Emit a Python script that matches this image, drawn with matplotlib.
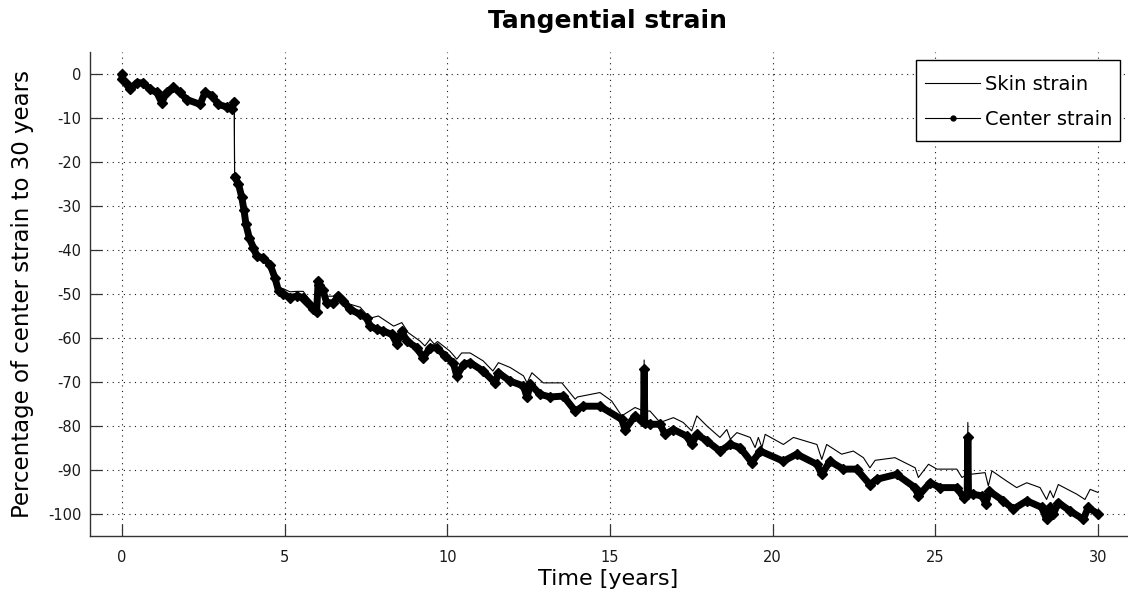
import numpy as np
import matplotlib
matplotlib.use("Agg")
import matplotlib.pyplot as plt
from matplotlib.lines import Line2D
from matplotlib.patches import Rectangle

# ---------------- data ----------------
center_x = [0.00, 0.00, 0.14, 0.25, 0.45, 0.65, 0.86, 1.07, 1.22, 1.37, 1.58, 1.78, 1.99,
            2.40, 2.55, 2.76, 2.96, 3.22, 3.37, 3.45,
            3.46, 3.58, 3.68, 3.75, 3.81, 3.91, 4.04, 4.14, 4.34, 4.55, 4.70, 4.81, 4.96,
            5.16, 5.37, 5.57, 5.73, 5.88, 5.98, 6.03, 6.07, 6.17, 6.29, 6.50, 6.65, 6.80,
            7.00, 7.32, 7.52, 7.62, 7.83, 8.03, 8.30, 8.45, 8.60, 8.75, 9.06, 9.26, 9.47,
            9.67, 9.93, 10.18, 10.29, 10.50, 10.70, 11.10, 11.47, 11.57, 11.93, 12.34,
            12.45, 12.55, 12.85, 13.16, 13.57, 13.93, 14.18, 14.69, 15.36, 15.46, 15.77,
            15.98, 16.03, 16.05, 16.07, 16.23, 16.54, 16.69, 16.95, 17.36, 17.51, 17.67,
            17.98, 18.38, 18.70, 19.00, 19.36, 19.62, 20.33, 20.74, 21.36, 21.51, 21.76,
            22.17, 22.58, 22.99, 23.20, 23.81, 24.38, 24.48, 24.84, 25.15, 25.66, 25.87,
            25.98, 26.00, 26.02, 26.15, 26.45, 26.55, 26.66, 27.09, 27.40, 27.81, 28.27,
            28.42, 28.53, 28.63, 28.78, 29.14, 29.55, 29.70, 30.00]
center_y = [0.0, -1.2, -2.3, -3.5, -2.0, -2.0, -3.5, -4.2, -6.5, -4.2, -3.0, -4.2, -5.8,
            -6.9, -4.2, -4.9, -6.9, -7.5, -8.0, -6.3,
            -23.3, -25.0, -28.0, -31.0, -34.2, -37.2, -39.5, -41.4, -41.8, -43.3, -46.3,
            -49.3, -50.0, -50.8, -50.5, -50.8, -52.0, -53.5, -54.2, -47.0, -48.0, -49.0,
            -52.0, -52.0, -50.5, -51.5, -53.5, -54.6, -55.4, -57.3, -58.0, -58.4, -59.2,
            -61.4, -58.4, -60.7, -62.2, -64.5, -62.2, -62.2, -64.1, -65.6, -68.6, -66.0,
            -65.6, -67.5, -70.2, -67.9, -69.8, -70.9, -73.5, -70.5, -72.8, -73.4, -73.2,
            -76.6, -75.5, -75.5, -78.5, -80.8, -77.7, -78.9, -79.0, -67.1, -79.4, -79.6,
            -79.6, -81.9, -80.8, -82.3, -84.2, -81.9, -83.4, -85.7, -84.2, -84.9, -88.3,
            -85.7, -88.0, -86.4, -88.7, -91.0, -88.0, -89.8, -89.8, -93.3, -92.1, -91.0,
            -94.0, -95.9, -92.9, -94.0, -94.0, -96.3, -95.5, -82.6, -95.5, -95.5, -95.9,
            -97.8, -94.8, -97.0, -98.9, -97.0, -98.5, -101.2, -98.5, -100.0, -97.4, -99.3,
            -101.2, -98.5, -100.0]

skin_x = [0.00, 0.00, 0.14, 0.25, 0.45, 0.65, 0.86, 1.07, 1.22, 1.37, 1.58, 1.78, 1.99,
          2.40, 2.55, 2.76, 2.96, 3.22, 3.37, 3.45,
          3.46, 3.58, 3.68, 3.75, 3.81, 3.91, 4.04, 4.14, 4.34, 4.55, 4.70, 4.81, 4.96,
          5.16, 5.37, 5.57, 5.73, 5.88, 5.98, 6.03, 6.10, 6.20, 6.29, 6.50, 6.65, 6.80,
          7.00, 7.32, 7.62, 7.88, 8.35, 8.60, 8.80, 9.16, 9.31, 9.47, 9.60, 9.70, 10.08,
          10.29, 10.44, 10.70, 11.10, 11.40, 11.57, 11.93, 12.34, 12.45, 12.60, 12.95,
          13.37, 13.52, 13.93, 14.00, 14.69, 15.05, 15.36, 15.77, 16.03, 16.05, 16.07,
          16.10, 16.23, 16.54, 16.95, 17.25, 17.51, 17.67, 17.98, 18.38, 18.59, 18.70,
          18.90, 19.31, 19.46, 19.56, 19.67, 19.77, 20.33, 20.64, 21.36, 21.51, 21.66,
          22.12, 22.48, 22.79, 22.99, 23.15, 23.76, 24.38, 24.48, 24.79, 25.05, 25.66,
          25.82, 25.98, 26.00, 26.02, 26.05, 26.53, 26.63, 26.74, 27.19, 27.50, 27.81,
          28.22, 28.42, 28.53, 28.63, 28.78, 29.35, 29.60, 29.76, 30.00]
skin_y = [0.0, -1.2, -2.3, -3.5, -2.0, -2.0, -3.5, -4.2, -6.5, -4.2, -3.0, -4.2, -5.8,
          -6.9, -4.2, -4.9, -6.9, -7.5, -8.0, -6.3,
          -23.3, -25.0, -28.0, -31.0, -34.2, -37.2, -39.5, -41.4, -41.5, -42.8, -45.5,
          -48.5, -48.8, -49.5, -49.4, -49.4, -51.0, -52.5, -53.0, -46.5, -47.5, -48.3,
          -50.5, -50.5, -49.5, -50.5, -52.3, -53.0, -55.5, -55.0, -57.3, -56.5, -58.8,
          -60.7, -61.8, -60.3, -61.4, -60.8, -63.0, -64.8, -63.4, -63.4, -65.2, -67.5,
          -65.6, -66.7, -68.6, -70.2, -67.9, -70.2, -70.2, -70.2, -73.9, -73.4, -72.4,
          -74.3, -77.7, -75.8, -76.6, -65.0, -79.5, -76.6, -76.6, -79.2, -78.1, -79.2,
          -81.1, -77.7, -80.0, -82.6, -80.8, -83.0, -81.5, -82.6, -84.9, -82.6, -84.9,
          -81.9, -84.2, -82.6, -84.2, -87.6, -84.2, -86.4, -85.7, -87.2, -89.5, -87.8,
          -87.2, -89.5, -91.7, -88.7, -89.8, -89.8, -91.7, -91.0, -79.2, -95.5, -91.0,
          -90.6, -93.6, -90.2, -92.5, -94.0, -92.9, -94.0, -96.7, -94.7, -96.3, -93.3,
          -95.5, -96.7, -94.4, -95.1]

x_ticks = [0, 5, 10, 15, 20, 25, 30]
y_ticks = [0, -10, -20, -30, -40, -50, -60, -70, -80, -90, -100]
title_text = "Tangential strain"
xlabel_text = "Time [years]"
ylabel_text = "Percentage of center strain to 30 years"
legend_labels = ["Skin strain", "Center strain"]

# ---------------- figure ----------------
plt.rcParams['font.family'] = ['DejaVu Sans']
plt.rcParams['axes.unicode_minus'] = False

W, H = 1128, 601
fig = plt.figure(figsize=(W / 100, H / 100), dpi=100)
ax = fig.add_axes([89.5 / W, 1 - 536 / H, (1130.5 - 89.5) / W, (536 - 52) / H])

cx = np.array(center_x)
cy = np.array(center_y)
jump = int(np.argmax(np.diff(cy) < -10)) + 1

ax.plot(skin_x, skin_y, color='black', lw=0.8, zorder=3)
ax.plot(cx, cy, color='black', lw=0.8, zorder=3)
for sl in (slice(0, jump), slice(jump, None)):
    ax.plot(cx[sl], cy[sl], color='black', lw=5.0, marker='D', ms=5,
            solid_joinstyle='round', solid_capstyle='round', zorder=4)

ax.set_xlim(-1, 31)
ax.set_ylim(-105, 5)
ax.set_xticks(x_ticks)
ax.set_yticks(y_ticks)
ax.tick_params(direction='in', length=8.5, width=0.9, color='0.2',
               labelsize=10.5, labelcolor='0.1')
ax.tick_params(axis='x', pad=10)
ax.tick_params(axis='y', pad=6)

ax.grid(True, color='0.1', linestyle=(0, (1, 4)), linewidth=0.8)
ax.set_axisbelow(True)

for side in ('top', 'right'):
    ax.spines[side].set_visible(False)
for side in ('left', 'bottom'):
    ax.spines[side].set_color('0.2')
    ax.spines[side].set_linewidth(1.0)

fig.text(608 / W, 1 - 21 / H, title_text, ha='center', va='center',
         fontsize=18, fontweight='bold')
fig.text(608 / W, 1 - 579 / H, xlabel_text, ha='center', va='center', fontsize=16)
fig.text(23 / W, 1 - 294 / H, ylabel_text, ha='center', va='center',
         rotation=90, fontsize=16.5)

# legend box drawn separately so its padding can match the reference
box = Rectangle((916 / W, 1 - 141 / H), (1120 - 916) / W, (141 - 60) / H,
                transform=fig.transFigure, facecolor='white', edgecolor='black',
                linewidth=1.0, zorder=5, clip_on=False)
ax.add_patch(box)

handles = [Line2D([], [], color='black', lw=0.8),
           Line2D([], [], color='black', lw=0.8, marker='.', ms=7)]
leg = ax.legend(handles, legend_labels, loc='center left',
                bbox_to_anchor=(925 / W, 1 - 102 / H),
                bbox_transform=fig.transFigure, borderaxespad=0,
                fontsize=14, handlelength=2.83, handletextpad=0.26,
                labelspacing=0.85, borderpad=0.0, frameon=False)
leg.set_zorder(6)

fig.savefig("out.png", dpi=100)
